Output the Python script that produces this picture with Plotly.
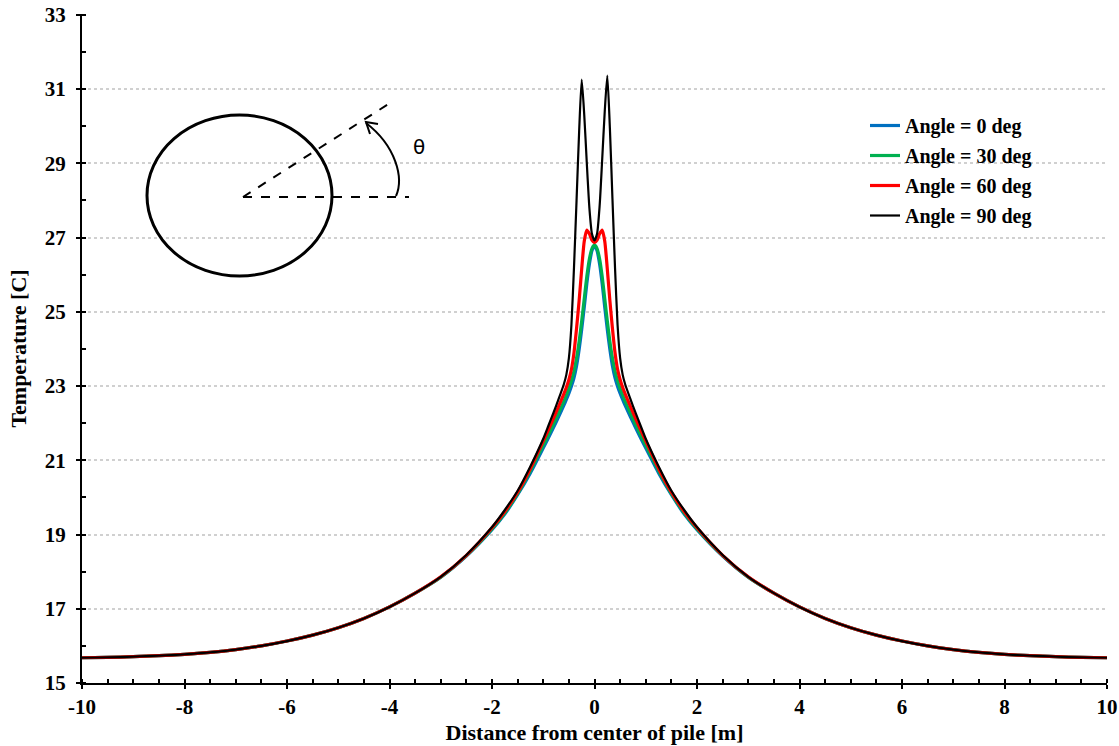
import plotly.graph_objects as go

# Distance from center of pile [m]
x_m = [-10, -9.5, -9, -8.5, -8, -7.5, -7, -6.5, -6, -5.5, -5, -4.5, -4, -3.5, -3, -2.5, -2,
       -1.75, -1.5, -1.25, -1, -0.9, -0.8, -0.7, -0.6, -0.55, -0.5, -0.45, -0.4, -0.35, -0.3,
       -0.25, -0.2, -0.15, -0.1, -0.05, 0,
       0.05, 0.1, 0.15, 0.2, 0.25, 0.3, 0.35, 0.4, 0.45, 0.5, 0.55, 0.6, 0.7, 0.8, 0.9, 1,
       1.25, 1.5, 1.75, 2, 2.5, 3, 3.5, 4, 4.5, 5, 5.5, 6, 6.5, 7, 7.5, 8, 8.5, 9, 9.5, 10]

# Temperature [C] for each angle
t_0deg = [15.68, 15.69, 15.71, 15.735, 15.77, 15.825, 15.90, 16.00, 16.13, 16.29, 16.49, 16.74,
          17.05, 17.42, 17.85, 18.42, 19.13, 19.55, 20.07, 20.66, 21.33, 21.60, 21.88, 22.17,
          22.47, 22.63, 22.80, 22.99, 23.22, 23.54, 23.98, 24.52, 25.12, 25.75, 26.28, 26.64, 26.78,
          26.64, 26.28, 25.75, 25.12, 24.52, 23.98, 23.54, 23.22, 22.99, 22.80, 22.63, 22.47,
          22.17, 21.88, 21.60, 21.33, 20.66, 20.07, 19.55, 19.13, 18.42, 17.85, 17.42, 17.05,
          16.74, 16.49, 16.29, 16.13, 16.00, 15.90, 15.825, 15.77, 15.735, 15.71, 15.69, 15.68]
t_30deg = [15.68, 15.69, 15.71, 15.735, 15.77, 15.825, 15.90, 16.00, 16.13, 16.29, 16.49, 16.74,
           17.05, 17.42, 17.85, 18.43, 19.15, 19.58, 20.10, 20.72, 21.40, 21.68, 21.97, 22.27,
           22.58, 22.75, 22.93, 23.14, 23.40, 23.75, 24.20, 24.75, 25.35, 25.95, 26.42, 26.70, 26.80,
           26.70, 26.42, 25.95, 25.35, 24.75, 24.20, 23.75, 23.40, 23.14, 22.93, 22.75, 22.58,
           22.27, 21.97, 21.68, 21.40, 20.72, 20.10, 19.58, 19.15, 18.43, 17.85, 17.42, 17.05,
           16.74, 16.49, 16.29, 16.13, 16.00, 15.90, 15.825, 15.77, 15.735, 15.71, 15.69, 15.68]
t_60deg = [15.68, 15.69, 15.71, 15.735, 15.77, 15.825, 15.90, 16.00, 16.13, 16.29, 16.49, 16.74,
           17.05, 17.42, 17.86, 18.44, 19.18, 19.62, 20.14, 20.78, 21.52, 21.82, 22.13, 22.45,
           22.78, 22.96, 23.17, 23.45, 23.90, 24.55, 25.30, 26.15, 26.90, 27.20, 27.10, 26.93, 26.86,
           26.93, 27.10, 27.20, 26.90, 26.15, 25.30, 24.55, 23.90, 23.45, 23.17, 22.96, 22.78,
           22.45, 22.13, 21.82, 21.52, 20.78, 20.14, 19.62, 19.18, 18.44, 17.86, 17.42, 17.05,
           16.74, 16.49, 16.29, 16.13, 16.00, 15.90, 15.825, 15.77, 15.735, 15.71, 15.69, 15.68]
t_90deg = [15.68, 15.69, 15.71, 15.735, 15.77, 15.825, 15.90, 16.00, 16.13, 16.29, 16.49, 16.74,
           17.05, 17.42, 17.86, 18.45, 19.20, 19.66, 20.18, 20.84, 21.58, 21.93, 22.28, 22.65,
           23.04, 23.30, 23.75, 24.65, 26.20, 28.00, 29.85, 31.25, 30.30, 29.00, 27.80, 27.10, 26.92,
           27.10, 27.85, 29.10, 30.40, 31.36, 29.95, 28.05, 26.20, 24.65, 23.75, 23.30, 23.04,
           22.65, 22.28, 21.93, 21.58, 20.84, 20.18, 19.66, 19.20, 18.45, 17.86, 17.42, 17.05,
           16.74, 16.49, 16.29, 16.13, 16.00, 15.90, 15.825, 15.77, 15.735, 15.71, 15.69, 15.68]

series_names = ["Angle = 0 deg", "Angle = 30 deg", "Angle = 60 deg", "Angle = 90 deg"]
series_vals = [t_0deg, t_30deg, t_60deg, t_90deg]
series_colors = ["#0070C0", "#00B050", "#FF0000", "#000000"]
series_widths = [3.2, 3.2, 3.2, 2.2]

x_ticks = [-10, -8, -6, -4, -2, 0, 2, 4, 6, 8, 10]
y_ticks = [15, 17, 19, 21, 23, 25, 27, 29, 31, 33]

FONT = "Liberation Serif"

fig = go.Figure()
for i, (name, vals, col, w) in enumerate(zip(series_names, series_vals, series_colors, series_widths)):
    fig.add_trace(go.Scatter(
        x=x_m, y=vals, mode="lines", name=name, legendgroup=f"g{i}",
        line=dict(color=col, width=w, shape="spline", smoothing=0.6),
    ))

# inner half of the crossing major ticks
fig.add_trace(go.Scatter(x=[None], y=[None], xaxis="x2", yaxis="y2", showlegend=False,
                         hoverinfo="skip"))

W, H = 1119, 746
L, R, T, B = 82, 12, 14, 63
pw, ph = W - L - R, H - T - B


def px(x):
    return (x - L) / pw


def py(y):
    return (H - B - y) / ph


YMAX = 33.02

fig.update_layout(
    width=W, height=H,
    margin=dict(l=L, r=R, t=T, b=B, autoexpand=False),
    paper_bgcolor="white", plot_bgcolor="white",
    font=dict(family=FONT, size=18, color="black"),
    showlegend=True,
    legend=dict(x=px(865), y=py(106), xanchor="left", yanchor="top",
                bgcolor="rgba(0,0,0,0)", borderwidth=0,
                font=dict(family=FONT, size=20, color="black", weight="bold"),
                tracegroupgap=1, itemwidth=30),
    xaxis=dict(range=[-10, 10], tickvals=x_ticks, ticktext=[str(v) for v in x_ticks],
               ticks="outside", ticklen=4, tickwidth=2, tickcolor="black", automargin=False,
               showline=True, linecolor="black", linewidth=2, showgrid=False, zeroline=False,
               tickfont=dict(family=FONT, size=21, color="black", weight="bold"),
               minor=dict(dtick=0.5, tick0=0, ticks="inside", ticklen=4, tickwidth=1.5,
                          tickcolor="black", showgrid=False),
               title=dict(text="Distance from center of pile [m]", standoff=6,
                          font=dict(family=FONT, size=22, color="black", weight="bold"))),
    yaxis=dict(range=[15, YMAX], tickvals=y_ticks, ticktext=[str(v) for v in y_ticks],
               ticks="outside", ticklen=4, tickwidth=2, tickcolor="black", automargin=False,
               ticklabelstandoff=6,
               showline=True, linecolor="black", linewidth=2, zeroline=False,
               showgrid=True, gridcolor="#d0d0d0", griddash="dot", gridwidth=1.5,
               tickfont=dict(family=FONT, size=21, color="black", weight="bold"),
               minor=dict(dtick=1, tick0=15, ticks="inside", ticklen=4, tickwidth=1.5,
                          tickcolor="black", showgrid=False),
               title=dict(text="Temperature [C]", standoff=12,
                          font=dict(family=FONT, size=22, color="black", weight="bold"))),
    xaxis2=dict(overlaying="x", matches="x", anchor="y2", side="bottom", range=[-10, 10],
                tickvals=x_ticks, ticks="inside", ticklen=4, tickwidth=2, tickcolor="black",
                showticklabels=False, showline=False, showgrid=False, zeroline=False),
    yaxis2=dict(overlaying="y", matches="y", anchor="x2", side="left", range=[15, YMAX],
                tickvals=y_ticks, ticks="inside", ticklen=4, tickwidth=2, tickcolor="black",
                showticklabels=False, showline=False, showgrid=False, zeroline=False),
)

# inset sketch of the pile and angle definition (decoration, paper coordinates)
shapes = []
shapes.append(dict(type="circle", xref="paper", yref="paper",
                   x0=px(147), x1=px(332), y0=py(276), y1=py(115),
                   line=dict(color="black", width=3)))
shapes.append(dict(type="line", xref="paper", yref="paper",
                   x0=px(243), y0=py(197), x1=px(409), y1=py(197),
                   line=dict(color="black", width=2, dash="dash")))
shapes.append(dict(type="line", xref="paper", yref="paper",
                   x0=px(243), y0=py(197), x1=px(390), y1=py(103),
                   line=dict(color="black", width=2, dash="dash")))
arc = (f"M {px(396)},{py(196)} C {px(404)},{py(178)} {px(396)},{py(146)} {px(366)},{py(123)}")
shapes.append(dict(type="path", xref="paper", yref="paper", path=arc,
                   line=dict(color="black", width=2)))
head = (f"M {px(378)},{py(124)} L {px(366)},{py(122)} L {px(370)},{py(134)}")
shapes.append(dict(type="path", xref="paper", yref="paper", path=head,
                   line=dict(color="black", width=2)))
fig.update_layout(shapes=shapes)

fig.add_annotation(xref="paper", yref="paper", x=px(419), y=py(147), text="θ",
                   showarrow=False, xanchor="center", yanchor="middle",
                   font=dict(family="DejaVu Sans", size=20, color="black"))

fig.write_html("out.html")
